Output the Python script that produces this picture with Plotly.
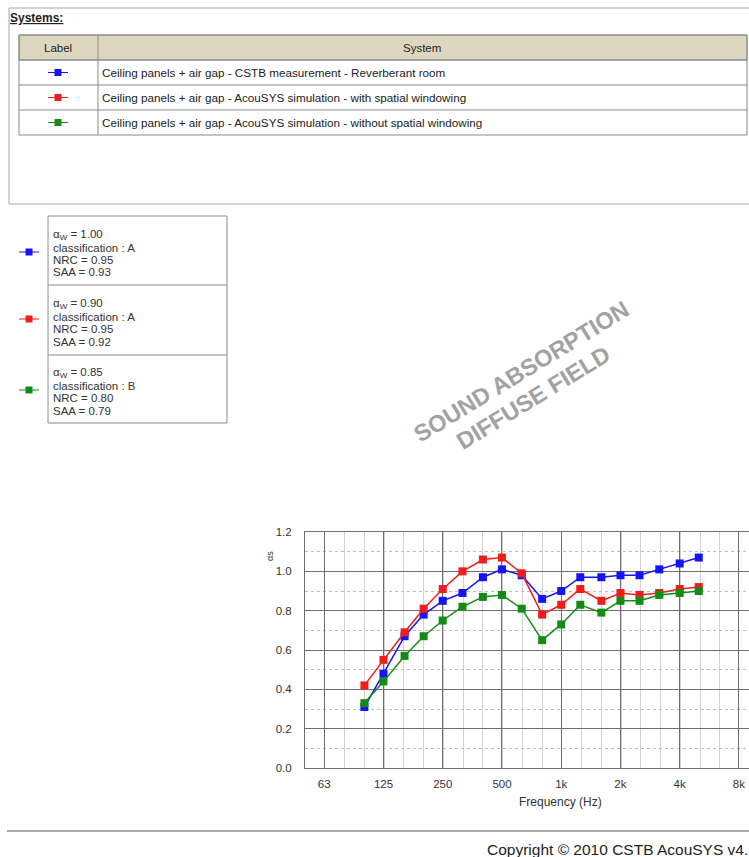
import math
import plotly.graph_objects as go

# ---- data ----
freqs = [100, 125, 160, 200, 250, 315, 400, 500, 630, 800,
         1000, 1250, 1600, 2000, 2500, 3150, 4000, 5000]
alpha_measured = [0.31, 0.48, 0.67, 0.78, 0.85, 0.89, 0.97, 1.01, 0.98, 0.86,
                  0.90, 0.97, 0.97, 0.98, 0.98, 1.01, 1.04, 1.07]
alpha_windowed = [0.42, 0.55, 0.69, 0.81, 0.91, 1.00, 1.06, 1.07, 0.99, 0.78,
                  0.83, 0.91, 0.85, 0.89, 0.88, 0.89, 0.91, 0.92]
alpha_unwindowed = [0.33, 0.44, 0.57, 0.67, 0.75, 0.82, 0.87, 0.88, 0.81, 0.65,
                    0.73, 0.83, 0.79, 0.85, 0.85, 0.88, 0.89, 0.90]

system_names = [
    "Ceiling panels + air gap - CSTB measurement - Reverberant room",
    "Ceiling panels + air gap - AcouSYS simulation - with spatial windowing",
    "Ceiling panels + air gap - AcouSYS simulation - without spatial windowing",
]
series_colors = ["#1414f5", "#f21c1c", "#148c14"]
alpha_w = ["1.00", "0.90", "0.85"]
classes = ["A", "A", "B"]
nrc = ["0.95", "0.95", "0.80"]
saa = ["0.93", "0.92", "0.79"]

octave_vals = [62.5, 125, 250, 500, 1000, 2000, 4000, 8000]
octave_text = ["63", "125", "250", "500", "1k", "2k", "4k", "8k"]
third_octave_vals = [50 * 2 ** (k / 3) for k in range(0, 22)]

W, H = 749, 857
FONT = "Liberation Sans, Arial, sans-serif"


def px(x):
    return x / W


def py(y):
    return 1 - y / H


fig = go.Figure()

series = [alpha_measured, alpha_windowed, alpha_unwindowed]
for name, vals, col in zip(system_names, series, series_colors):
    fig.add_trace(go.Scatter(
        x=freqs, y=vals, name=name, mode="lines+markers",
        line=dict(color=col, width=1.5),
        marker=dict(symbol="square", size=8, color=col),
        showlegend=False,
    ))

shapes = []
annotations = []


def rect(x0, y0, x1, y1, fill="rgba(0,0,0,0)", line="#9a9a9a", width=1):
    shapes.append(dict(type="rect", xref="paper", yref="paper",
                       x0=px(x0), x1=px(x1), y0=py(y0), y1=py(y1),
                       fillcolor=fill, line=dict(color=line, width=width),
                       layer="below"))


def hline(x0, x1, y, color="#9a9a9a", width=1):
    shapes.append(dict(type="line", xref="paper", yref="paper",
                       x0=px(x0), x1=px(x1), y0=py(y), y1=py(y),
                       line=dict(color=color, width=width)))


def vline(x, y0, y1, color="#9a9a9a", width=1):
    shapes.append(dict(type="line", xref="paper", yref="paper",
                       x0=px(x), x1=px(x), y0=py(y0), y1=py(y1),
                       line=dict(color=color, width=width)))


def text(x, y, s, size=11, color="#222222", xanchor="left", angle=0, bold=False):
    if xanchor == "left":
        x -= 2  # offset the annotation's inner padding
    annotations.append(dict(
        xref="paper", yref="paper", x=px(x), y=py(y), text=s,
        showarrow=False, xanchor=xanchor, yanchor="middle", textangle=angle,
        font=dict(family=FONT, size=size, color=color,
                  weight="bold" if bold else "normal"),
    ))


def swatch(cx, cy, col, half=10, sq=3.5):
    hline(cx - half, cx + half, cy, color=col, width=1)
    shapes.append(dict(type="rect", xref="paper", yref="paper",
                       x0=px(cx - sq), x1=px(cx + sq), y0=py(cy + sq), y1=py(cy - sq),
                       fillcolor=col, line=dict(width=0)))


# ---- systems panel ----
rect(9, 8, 770, 204, line="#a8a8a8")
text(10, 18, "<b><u>Systems:</u></b>", size=12, color="#222222")
rect(19, 35, 747, 60, fill="#ddd7c0", line="#8a8a8a")
rect(19, 35, 747, 135, line="#8a8a8a")
for yy in (60, 85, 110):
    hline(19, 747, yy, color="#8a8a8a")
vline(98, 35, 135, color="#8a8a8a")
text(58, 47.5, "Label", size=11.5, xanchor="center")
text(422, 47.5, "System", size=11.5, xanchor="center")
for i, (name, col) in enumerate(zip(system_names, series_colors)):
    cy = 72.5 + 25 * i
    swatch(58, cy, col)
    text(102, cy, name, size=11.7)

# ---- single-number ratings ----
rect(48, 216, 227, 423, line="#8a8a8a")
for yy in (285, 355):
    hline(48, 227, yy, color="#8a8a8a")
swatch_y = [252, 319, 390]
first_line = [235, 304, 373]
for i, col in enumerate(series_colors):
    swatch(29, swatch_y[i], col)
    lines = [f"α<sub>W</sub> = {alpha_w[i]}",
             f"classification : {classes[i]}",
             f"NRC = {nrc[i]}",
             f"SAA = {saa[i]}"]
    for j, s in enumerate(lines):
        text(53, first_line[i] + 12.5 * j, s, size=11.5, color="#333333")

# ---- watermark ----
text(521, 372, "SOUND ABSORPTION", size=23.5, color="#a2a2a2",
     xanchor="center", angle=-31.5, bold=True)
text(533, 398, "DIFFUSE FIELD", size=23.5, color="#a2a2a2",
     xanchor="center", angle=-31.5, bold=True)

# ---- axis labels ----
text(270, 556, "αs", size=9, color="#333333", xanchor="center", angle=-90)
text(560, 802, "Frequency (Hz)", size=12, color="#333333", xanchor="center")

# ---- footer ----
hline(7, 760, 831, color="#8c8c8c", width=1.5)
text(487, 849, "Copyright © 2010 CSTB AcouSYS v4.", size=15.5, color="#222222")

x_lo, x_hi = math.log10(49.9), math.log10(9000)

fig.update_layout(
    width=W, height=H,
    margin=dict(l=0, r=0, t=0, b=0, pad=0),
    paper_bgcolor="white", plot_bgcolor="white",
    font=dict(family=FONT, size=11, color="#333333"),
    shapes=shapes, annotations=annotations,
    xaxis=dict(
        type="log", domain=[px(305), 1.0], range=[x_lo, x_hi],
        automargin=False,
        tickmode="array", tickvals=octave_vals, ticktext=octave_text,
        showgrid=True, gridcolor="#6e6e6e", gridwidth=1,
        minor=dict(tickmode="array", tickvals=third_octave_vals,
                   showgrid=True, gridcolor="#d2d2d2", gridwidth=1, ticks=""),
        showline=True, linecolor="#6e6e6e", linewidth=1, mirror=True,
        ticks="", ticklabelstandoff=5, zeroline=False,
        tickfont=dict(size=11.5, color="#333333"),
    ),
    yaxis=dict(
        domain=[py(768), py(532)], range=[0, 1.2],
        automargin=False,
        tickmode="linear", tick0=0, dtick=0.2, tickformat=".1f",
        showgrid=True, gridcolor="#6e6e6e", gridwidth=1,
        minor=dict(dtick=0.1, showgrid=True, gridcolor="#bdbdbd",
                   griddash="dot", gridwidth=1, ticks=""),
        showline=True, linecolor="#6e6e6e", linewidth=1,
        ticks="", ticklabelstandoff=10, zeroline=False,
        tickfont=dict(size=11.5, color="#333333"),
    ),
)

fig.write_html("out.html")
